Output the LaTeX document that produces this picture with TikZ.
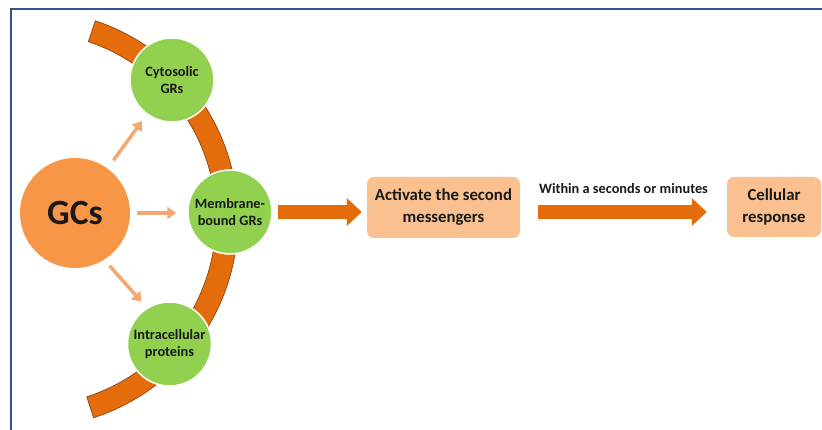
\documentclass[tikz,border=0pt]{standalone}
\usepackage{fontspec}
\setmainfont{Carlito}
\usetikzlibrary{arrows.meta,calc}
\definecolor{gcorange}{RGB}{247,150,70}
\definecolor{grgreen}{RGB}{146,208,80}
\definecolor{boxpeach}{RGB}{250,192,144}
\definecolor{arcorange}{RGB}{228,108,10}
\definecolor{arcedge}{RGB}{140,70,20}
\definecolor{smallarrow}{RGB}{244,168,112}
\definecolor{frameblue}{RGB}{52,84,140}
\definecolor{txt}{RGB}{25,25,25}
\begin{document}
\begin{tikzpicture}[x=1pt,y=-1pt,
  framebox/.style={draw=frameblue,line width=2.2pt},
  band/.style={fill=arcorange,draw=arcedge,line width=0.7pt},
  gcnode/.style={circle,fill=gcorange,minimum size=110pt,inner sep=0pt,text=txt,font=\bfseries\fontsize{35.5}{38}\selectfont},
  grnode/.style={circle,fill=grgreen,draw=white,line width=1.5pt,minimum size=84pt,inner sep=0pt,align=center,text=txt,font=\bfseries\fontsize{14.3}{16.5}\selectfont},
  pbox/.style={rectangle,rounded corners=7pt,fill=boxpeach,inner sep=0pt,align=center,text=txt,font=\bfseries\fontsize{16.8}{22}\selectfont},
  smallarr/.style={draw=smallarrow,line width=3.5pt,-{Triangle[length=9pt,width=12pt]}},
  bigarr/.style={draw=arcorange,line width=14pt,-{Triangle[length=15pt,width=27pt]}},
  lbl/.style={text=txt,font=\bfseries\fontsize{14.3}{16}\selectfont}
]
\useasboundingbox (0,0) rectangle (822,430);
\begin{scope}
  \clip (0,0) rectangle (822,430);
  \draw[framebox] (11,9) rectangle (850,460);
\end{scope}

% arc band
\coordinate (C) at (29,219);
\draw[band] ($(C)+(-71.5:209)$) arc[start angle=-71.5,end angle=72,radius=209]
  -- ($(C)+(72:187)$) arc[start angle=72,end angle=-71.5,radius=187] -- cycle;

% nodes
\node[gcnode] (g) at (75,213) {GCs};
\node[grnode] (cyt) at (172,80) {Cytosolic\\GRs};
\node[grnode] (mem) at (230,212) {Membrane-\\bound GRs};
\node[grnode] (intra) at (169.5,344) {Intracellular\\proteins};
\node[pbox,minimum width=153pt,minimum height=61pt] (act) at (443.5,207.5) {Activate the second\\messengers};
\node[pbox,minimum width=94pt,minimum height=60pt] (cell) at (774,207) {Cellular\\response};

% small arrows
\draw[smallarr,shorten <=10pt,shorten >=8pt] (g) -- (cyt);
\draw[smallarr,shorten <=7pt,shorten >=11pt] (g.east) -- (g.east -| mem.west);
\draw[smallarr,shorten <=8pt,shorten >=8pt] (g.-58) -- (intra.122);

% big arrows
\draw[bigarr,shorten <=5pt,shorten >=5pt] (mem.east) -- (mem.east -| act.west);
\draw[bigarr,shorten <=18pt,shorten >=20pt] (act.east |- mem.east) -- node[lbl,above=8pt] {Within a seconds or minutes} (cell.west |- mem.east);
\end{tikzpicture}
\end{document}
